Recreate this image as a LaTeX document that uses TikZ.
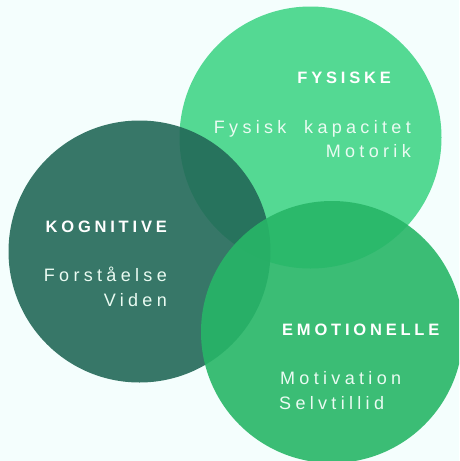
\documentclass[tikz,border=0pt]{standalone}
\usepackage{fontspec}
\setmainfont{Liberation Sans}
\newfontfamily\headfont[LetterSpace=23]{Liberation Sans}
\newfontfamily\itemfont[LetterSpace=24,WordSpace=1.9]{Liberation Sans}

\definecolor{bgcol}{HTML}{F4FEFD}
\definecolor{fysgreen}{HTML}{43D588}
\definecolor{kogteal}{HTML}{236958}
\definecolor{emogreen}{HTML}{27B667}
\definecolor{itemtext}{HTML}{EAFBF2}

\tikzset{disc/.style={opacity=0.9},
  head/.style={text=white,inner sep=0pt,font=\headfont\bfseries\fontsize{16.5}{19}\selectfont},
  item/.style={text=itemtext,inner sep=0pt,font=\itemfont\fontsize{18}{21}\selectfont}}

\begin{document}
\begin{tikzpicture}[x=1pt,y=-1pt]
\clip (0,0) rectangle (459,461);
\fill[bgcol] (0,0) rectangle (459,461);

% the three circles
\fill[fysgreen,disc] (310.5,137.5) circle (131pt);
\fill[kogteal,disc] (139.5,251.5) circle (131pt);
\fill[emogreen,disc] (332,332) circle (131pt);

% fysiske
\node[head,anchor=base east] (fys) at (391,83) {FYSISKE};
\node[item,anchor=base east] (fys1) at (411,133) {Fysisk kapacitet};
\node[item,anchor=base east] (fys2) at (411,157) {Motorik};

% kognitive
\node[head,anchor=base east] (kog) at (167,232) {KOGNITIVE};
\node[item,anchor=base east] (kog1) at (167,281) {Forståelse};
\node[item,anchor=base east] (kog2) at (167,306) {Viden};

% emotionelle
\node[head,anchor=base west] (emo) at (282,335) {EMOTIONELLE};
\node[item,anchor=base west] (emo1) at (280,384) {Motivation};
\node[item,anchor=base west] (emo2) at (279,409) {Selvtillid};
\end{tikzpicture}
\end{document}
